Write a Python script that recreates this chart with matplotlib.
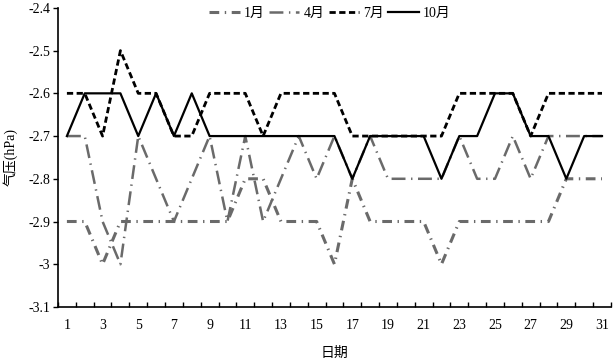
import matplotlib.pyplot as plt
from matplotlib.ticker import FixedLocator, FuncFormatter

plt.rcParams['font.family'] = ['Liberation Serif', 'Noto Sans CJK SC']
plt.rcParams['axes.unicode_minus'] = False
plt.rcParams['lines.scale_dashes'] = False

days = list(range(1, 32))
jan = [-2.9, -2.9, -3.0, -2.9, -2.9, -2.9, -2.9, -2.9, -2.9, -2.9, -2.8, -2.8, -2.9, -2.9, -2.9, -3.0,
       -2.8, -2.9, -2.9, -2.9, -2.9, -3.0, -2.9, -2.9, -2.9, -2.9, -2.9, -2.9, -2.8, -2.8, -2.8]
apr = [-2.7, -2.7, -2.9, -3.0, -2.7, -2.8, -2.9, -2.8, -2.7, -2.9, -2.7, -2.9, -2.8, -2.7, -2.8, -2.7,
       -2.8, -2.7, -2.8, -2.8, -2.8, -2.8, -2.7, -2.8, -2.8, -2.7, -2.8, -2.7, -2.7, -2.7, -2.7]
jul = [-2.6, -2.6, -2.7, -2.5, -2.6, -2.6, -2.7, -2.7, -2.6, -2.6, -2.6, -2.7, -2.6, -2.6, -2.6, -2.6,
       -2.7, -2.7, -2.7, -2.7, -2.7, -2.7, -2.6, -2.6, -2.6, -2.6, -2.7, -2.6, -2.6, -2.6, -2.6]
oct_ = [-2.7, -2.6, -2.6, -2.6, -2.7, -2.6, -2.7, -2.6, -2.7, -2.7, -2.7, -2.7, -2.7, -2.7, -2.7, -2.7,
        -2.8, -2.7, -2.7, -2.7, -2.7, -2.8, -2.7, -2.7, -2.6, -2.6, -2.7, -2.7, -2.8, -2.7, -2.7]
labels = ['1月', '4月', '7月', '10月']

gray = '#6a6a6a'
fig = plt.figure(figsize=(6.13, 3.59), dpi=100)
ax = fig.add_axes([0.0946, 0.145, 0.902, 0.833])

ax.plot(days, jan, color=gray, lw=2.2, linestyle=(0, (7, 4, 1, 4)), label=labels[0])
ax.plot(days, apr, color=gray, lw=1.8, linestyle=(0, (10, 4, 1, 4)), label=labels[1])
ax.plot(days, jul, color='black', lw=2.0, linestyle=(0, (4.5, 2.5)), label=labels[2])
ax.plot(days, oct_, color='black', lw=1.6, linestyle='solid', label=labels[3])

ax.set_xlim(0.5, 31.5)
ax.set_ylim(-3.1, -2.4)
ax.set_yticks([-3.1, -3.0, -2.9, -2.8, -2.7, -2.6, -2.5, -2.4])
ax.yaxis.set_major_formatter(FuncFormatter(lambda v, p: '%g' % round(v, 1)))
ax.set_xticks(days[::2])
ax.xaxis.set_minor_locator(FixedLocator([d + 0.5 for d in range(0, 32)]))
ax.tick_params(axis='x', which='major', length=0, pad=9, labelsize=10)
ax.tick_params(axis='x', which='minor', direction='in', length=3.5, width=1)
ax.tick_params(axis='y', direction='out', length=3.5, width=1, labelsize=10, pad=2)

for s in ['top', 'right']:
    ax.spines[s].set_visible(False)
for s in ['left', 'bottom']:
    ax.spines[s].set_linewidth(1.2)

ax.set_xlabel('日期', fontsize=10, labelpad=10)
ax.set_ylabel('气压(hPa)', fontsize=10, labelpad=8)

fig.legend(loc='center', bbox_to_anchor=(0.538, 0.962), ncol=4, frameon=False, fontsize=10,
           handlelength=2.2, handletextpad=0.3, columnspacing=0.3, borderpad=0)

fig.savefig('out.png', dpi=100)
